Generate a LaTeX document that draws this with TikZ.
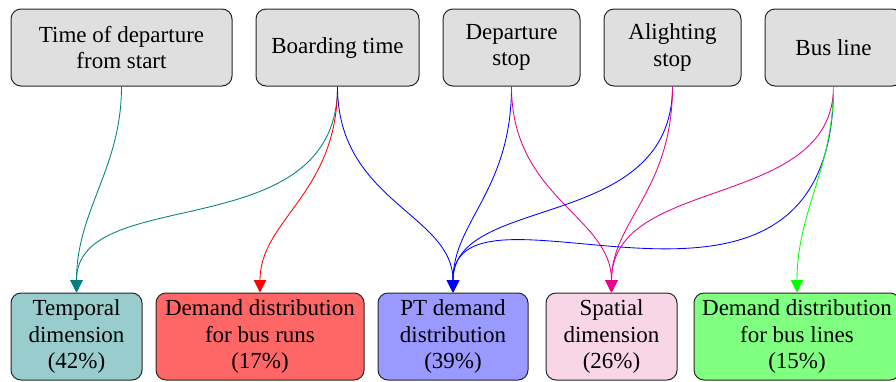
\documentclass[tikz,border=0pt]{standalone}
\usepackage{fontspec}
\setmainfont{Liberation Serif}
\usetikzlibrary{arrows.meta}
\definecolor{spat}{RGB}{230,0,140}
\definecolor{spatfill}{RGB}{249,214,229}
\tikzset{
  box/.style={draw=black!85, line width=1pt, rounded corners=10pt, inner sep=0pt,
    align=center, font=\fontsize{23}{26.5}\selectfont},
  topbox/.style={box, fill=gray!25, minimum height=77pt},
  botbox/.style={box, minimum height=87pt},
  link/.style={line width=0.85pt, out=-90, in=90, out looseness=1.25, in looseness=0.85,
    -{Triangle[length=12.5pt,width=12.5pt]}},
}
\begin{document}
\begin{tikzpicture}[x=1pt,y=-1pt]
\useasboundingbox (0,0) rectangle (896,381);
\clip (0,0) rectangle (896,381);
% top boxes
\node[topbox, minimum width=221pt] (t1) at (121.5,47.5) {Time of departure\\from start};
\node[topbox, minimum width=163pt] (t2) at (337.5,47.5) {Boarding time};
\node[topbox, minimum width=137pt] (t3) at (511.5,47.5) {Departure\\stop};
\node[topbox, minimum width=137pt] (t4) at (672.5,47.5) {Alighting\\stop};
\node[topbox, minimum width=137pt] (t5) at (833.5,47.5) {Bus line};
% bottom boxes
\node[botbox, fill=teal!40, minimum width=131pt] (b1) at (76.5,336.5) {Temporal\\dimension\\(42\%)};
\node[botbox, fill=red!60, minimum width=208pt] (b2) at (260,336.5) {Demand distribution\\for bus runs\\(17\%)};
\node[botbox, fill=blue!40, minimum width=150pt] (b3) at (453,336.5) {PT demand\\distribution\\(39\%)};
\node[botbox, fill=spatfill, minimum width=131pt] (b4) at (611.5,336.5) {Spatial\\dimension\\(26\%)};
\node[botbox, fill=green!50, minimum width=206pt] (b5) at (797,336.5) {Demand distribution\\for bus lines\\(15\%)};
% links
\draw[link, teal, out looseness=1, in looseness=1] (t1.south) to (b1.north);
\draw[link, teal] (t2.south) to (b1.north);
\draw[link, red] (t2.south) to (b2.north);
\draw[link, blue] (t2.south) to (b3.north);
\draw[link, blue] (t3.south) to (b3.north);
\draw[link, spat] (t3.south) to (b4.north);
\draw[link, blue] (t4.south) to (b3.north);
\draw[link, spat] (t4.south) to (b4.north);
\draw[link, blue, out looseness=1.75, in looseness=0.8] (t5.south) to (b3.north);
\draw[link, spat, out looseness=1.05, in looseness=1] (t5.south) to (b4.north);
\draw[link, green, out looseness=1, in looseness=1] (t5.south) to (b5.north);
\end{tikzpicture}
\end{document}
